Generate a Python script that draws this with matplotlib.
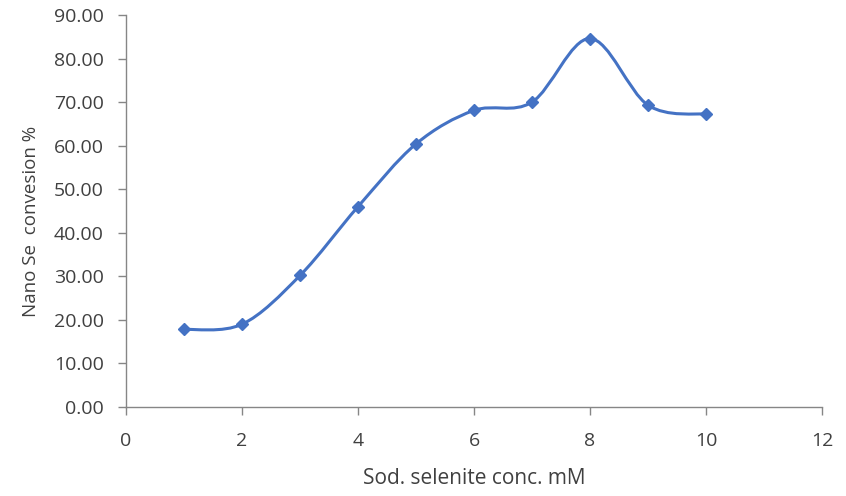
import numpy as np
import matplotlib.pyplot as plt
from matplotlib.path import Path
from matplotlib.patches import PathPatch

# data
conc = [1, 2, 3, 4, 5, 6, 7, 8, 9, 10]
conversion = [17.8, 19.0, 30.2, 46.0, 60.4, 68.1, 70.0, 84.6, 69.3, 67.2]

x_ticks = [0, 2, 4, 6, 8, 10, 12]
y_ticks = [0, 10, 20, 30, 40, 50, 60, 70, 80, 90]

line_color = '#4472C4'
axis_color = '#868686'
text_color = '#404040'


def smooth_path(xs, ys):
    """Excel style smoothed line: cubic bezier segments with catmull-rom handles"""
    pts = np.column_stack([xs, ys]).astype(float)
    n = len(pts)
    verts = [pts[0]]
    codes = [Path.MOVETO]
    for i in range(n - 1):
        p0 = pts[i - 1] if i > 0 else pts[i]
        p1 = pts[i]
        p2 = pts[i + 1]
        p3 = pts[i + 2] if i + 2 < n else pts[i + 1]
        c1 = p1 + (p2 - p0) / 6.0
        c2 = p2 - (p3 - p1) / 6.0
        verts += [c1, c2, p2]
        codes += [Path.CURVE4] * 3
    return Path(verts, codes)


plt.rcParams['font.family'] = ['Open Sans', 'DejaVu Sans']

fig = plt.figure(figsize=(8.46, 4.96), dpi=100)
ax = fig.add_axes([0.149, 0.1794, 0.8226, 0.7904])

patch = PathPatch(smooth_path(conc, conversion), facecolor='none',
                  edgecolor=line_color, lw=2.2, capstyle='round', zorder=2)
ax.add_patch(patch)
ax.plot(conc, conversion, linestyle='none', marker='D', markersize=6,
        color=line_color, zorder=3)

ax.set_xlim(0, 12)
ax.set_ylim(0, 90)
ax.set_xticks(x_ticks)
ax.set_yticks(y_ticks)
ax.set_xticklabels([str(t) for t in x_ticks])
ax.set_yticklabels(['%.2f' % t for t in y_ticks])

for side in ['top', 'right']:
    ax.spines[side].set_visible(False)
for side in ['left', 'bottom']:
    ax.spines[side].set_color(axis_color)
    ax.spines[side].set_linewidth(1.0)

ax.tick_params(axis='both', colors=axis_color, labelcolor=text_color,
               labelsize=14, length=6, width=1.0, direction='out')
ax.tick_params(axis='x', pad=12)
ax.tick_params(axis='y', pad=10)

ax.set_xlabel('Sod. selenite conc. mM', fontsize=15, color=text_color, labelpad=13)
ax.set_ylabel('Nano Se  convesion %', fontsize=13.5, color=text_color)
ax.yaxis.set_label_coords(-0.124, 0.474)

fig.savefig('out.png', dpi=100)
